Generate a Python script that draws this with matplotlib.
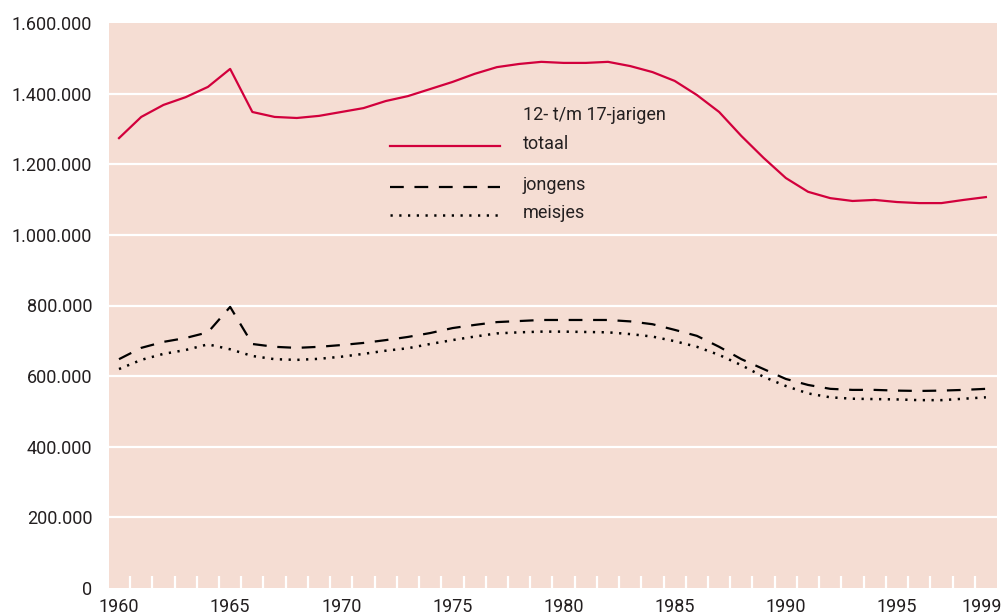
import matplotlib
matplotlib.use("Agg")
import matplotlib.pyplot as plt
import matplotlib.transforms as mtransforms
import numpy as np

years = list(range(1960, 2000))

totaal = [1274, 1334, 1368, 1390, 1419, 1470, 1348, 1334, 1331, 1337,
          1348, 1359, 1379, 1393, 1413, 1433, 1456, 1475, 1484, 1490,
          1487, 1487, 1490, 1478, 1461, 1436, 1396, 1348, 1280, 1218,
          1161, 1122, 1104, 1096, 1099, 1093, 1090, 1090, 1099, 1107]
jongens = [648, 680, 697, 708, 724, 796, 691, 683, 680, 683,
           688, 694, 702, 711, 722, 736, 745, 753, 756, 759,
           759, 759, 759, 755, 747, 731, 714, 683, 648, 620,
           592, 575, 564, 561, 561, 559, 558, 559, 561, 564]
meisjes = [620, 646, 663, 674, 690, 676, 657, 648, 646, 649,
           655, 663, 672, 679, 691, 702, 712, 721, 724, 726,
           726, 725, 724, 719, 712, 699, 683, 660, 631, 598,
           572, 551, 540, 536, 535, 534, 532, 532, 536, 540]

y_ticks = [0, 200000, 400000, 600000, 800000, 1000000, 1200000, 1400000, 1600000]
y_labels = ["0", "200.000", "400.000", "600.000", "800.000",
            "1.000.000", "1.200.000", "1.400.000", "1.600.000"]
x_ticks = [1960, 1965, 1970, 1975, 1980, 1985, 1990, 1995, 1999]

legend_title = "12- t/m 17-jarigen"
legend_labels = ["totaal", "jongens", "meisjes"]

RED = "#D2003C"
BG = "#F5DDD3"
TEXT = "#231F20"
DASH = (6.2, 4.8)
DOT = (0.9, 2.6)

plt.rcParams["font.family"] = ["Roboto", "DejaVu Sans"]

fig = plt.figure(figsize=(10.03, 6.14), dpi=100)
ax = fig.add_axes([109 / 1003, 1 - 588 / 614, (997 - 109) / 1003, (588 - 23) / 614])
ax.set_facecolor(BG)
for s in ax.spines.values():
    s.set_visible(False)

for t in y_ticks[1:-1]:
    ax.axhline(t, color="white", linewidth=1.6, zorder=1)

x = np.array(years)
ax.plot(x, np.array(totaal) * 1000, color=RED, linewidth=1.6, zorder=3)
ax.plot(x, np.array(jongens) * 1000, color="black", linewidth=1.6,
        dashes=DASH, zorder=3)
ax.plot(x, np.array(meisjes) * 1000, color="black", linewidth=1.8,
        dashes=DOT, zorder=3)

ax.set_xlim(1959.55, 1999.5)
ax.set_ylim(0, 1600000)

ax.set_yticks(y_ticks)
ax.set_yticklabels(y_labels)
ax.set_xticks(x_ticks)
ax.set_xticklabels([str(v) for v in x_ticks])
ax.set_xticks([y + 0.5 for y in years[:-1]], minor=True)
ax.tick_params(axis="y", length=0, pad=12, labelsize=13, labelcolor=TEXT)
ax.tick_params(axis="x", which="major", length=0, pad=7, labelsize=13,
               labelcolor=TEXT)
ax.tick_params(axis="x", which="minor", direction="in", length=8.5, width=1.6,
               color="white")

# last year label sits against the right edge; nudge it in a little
last = ax.get_xticklabels()[-1]
last.set_transform(last.get_transform()
                   + mtransforms.ScaledTranslation(-4 / 100, 0, fig.dpi_scale_trans))

# legend drawn by hand
def lx(px):
    return (px - 109) / (997 - 109)

def ly(py):
    return (588 - py) / (588 - 23)

ax.text(lx(523), ly(115), legend_title, transform=ax.transAxes, fontsize=13,
        color=TEXT, va="center", ha="left")
rows = [(146, dict(color=RED, linewidth=1.6)),
        (187, dict(color="black", linewidth=1.6, dashes=DASH)),
        (215, dict(color="black", linewidth=1.8, dashes=DOT))]
for (py, style), label in zip(rows, legend_labels):
    ax.plot([lx(390), lx(500)], [ly(py), ly(py)], transform=ax.transAxes, **style)
    ax.text(lx(523), ly(py - 2), label, transform=ax.transAxes, fontsize=13,
            color=TEXT, va="center", ha="left")

fig.savefig("out.png", dpi=100)
